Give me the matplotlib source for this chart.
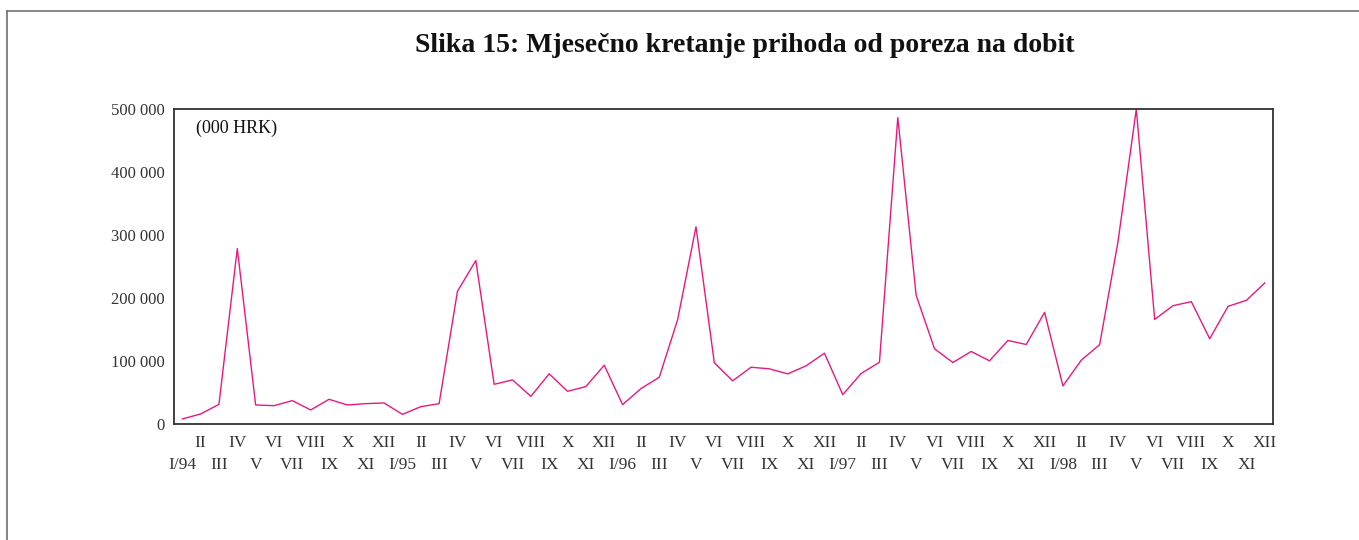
import matplotlib
matplotlib.use("Agg")
import matplotlib.pyplot as plt
from matplotlib.lines import Line2D

months = ["I/94", "II", "III", "IV", "V", "VI", "VII", "VIII", "IX", "X", "XI", "XII",
          "I/95", "II", "III", "IV", "V", "VI", "VII", "VIII", "IX", "X", "XI", "XII",
          "I/96", "II", "III", "IV", "V", "VI", "VII", "VIII", "IX", "X", "XI", "XII",
          "I/97", "II", "III", "IV", "V", "VI", "VII", "VIII", "IX", "X", "XI", "XII",
          "I/98", "II", "III", "IV", "V", "VI", "VII", "VIII", "IX", "X", "XI", "XII"]

values = [8000, 15900, 31200, 278600, 30200, 29100, 37100, 22300, 39200, 30200, 32300, 33400,
          15300, 27500, 32300, 210600, 259500, 63000, 70000, 43900, 79600, 51900, 59400, 93300,
          30700, 56200, 74200, 165600, 313000, 97100, 68500, 90100, 87600, 79600, 92300, 112400,
          46600, 80100, 98100, 486500, 204300, 119400, 97600, 115100, 100300, 132600, 126200, 177200,
          60500, 101300, 125800, 289100, 500000, 166000, 187800, 194200, 135300, 186700, 196300, 223800]

yticks = [0, 100000, 200000, 300000, 400000, 500000]
ytick_labels = ["0", "100 000", "200 000", "300 000", "400 000", "500 000"]

title = "Slika 15: Mjesečno kretanje prihoda od poreza na dobit"
unit_label = "(000 HRK)"

plt.rcParams['font.family'] = ['Liberation Serif', 'DejaVu Serif']

W, H = 1359, 540
fig = plt.figure(figsize=(W / 100, H / 100), dpi=100)

# axes in pixel coordinates
left, right, top, bottom = 174, 1273, 109, 424
ax = fig.add_axes([left / W, 1 - bottom / H, (right - left) / W, (bottom - top) / H])

x = list(range(len(values)))
ax.plot(x, values, color="#E6197F", lw=1.0, clip_on=True)

ax.set_xlim(-0.45, len(values) - 1 + 0.45)
ax.set_ylim(0, 500000)

ax.set_yticks(yticks)
ax.set_yticklabels(ytick_labels, fontsize=12, color="#333333")

# upper row: even months (II, IV, ...) as major ticks; lower row: odd months as minor ticks
upper_pos = [i for i in x if i % 2 == 1]
lower_pos = [i for i in x if i % 2 == 0]
ax.set_xticks(upper_pos)
ax.set_xticklabels([months[i] for i in upper_pos], fontsize=12.5, color="#333333")
ax.set_xticks(lower_pos, minor=True)
ax.set_xticklabels([months[i] for i in lower_pos], minor=True, fontsize=12.5, color="#333333")
ax.tick_params(axis="both", which="both", length=0)
ax.tick_params(axis="x", which="major", pad=8)
ax.tick_params(axis="x", which="minor", pad=24)
ax.tick_params(axis="y", pad=7)

for s in ax.spines.values():
    s.set_color("#333333")
    s.set_linewidth(1.3)

ax.text(0.02, 0.965, unit_label, transform=ax.transAxes, fontsize=13,
        va="top", ha="left", color="#111111")

fig.text(745 / W, 1 - 46 / H, title, fontsize=20, fontweight="bold",
         ha="center", va="center", color="#111111")

# figure frame (top and left lines)
fig.add_artist(Line2D([7 / W, 1.0], [1 - 11 / H, 1 - 11 / H], transform=fig.transFigure,
                      color="#707070", lw=1.2))
fig.add_artist(Line2D([7 / W, 7 / W], [1 - 11 / H, 0.0], transform=fig.transFigure,
                      color="#707070", lw=1.2))

fig.savefig("out.png", dpi=100)
